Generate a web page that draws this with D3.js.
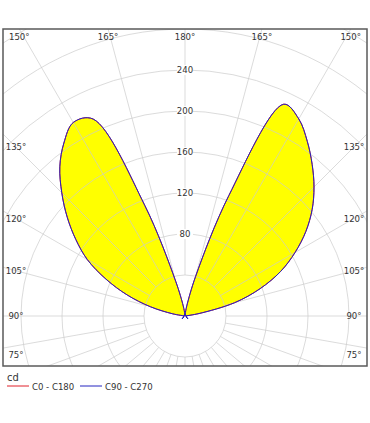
<!DOCTYPE html>
<html>
<head>
<meta charset="utf-8">
<script src="https://cdn.jsdelivr.net/npm/d3@7"></script>
<style>
  body { margin: 0; background: #fff; }
  text { font-family: "Liberation Sans Narrow", "DejaVu Sans Condensed", "Liberation Sans", sans-serif; fill: #333; }
</style>
</head>
<body>
<svg id="chart" width="370" height="423"></svg>
<script>
// gamma angles (deg from nadir), upper hemisphere only - below 90 is all zero
var gammaDeg = [90, 95, 100, 105, 110, 115, 120, 125, 130, 135, 140, 145, 150, 155, 160, 165, 170, 175, 180];
// candela, right half (C0 / C90)
var c0   = [0, 0, 14, 50, 78, 103, 124, 144, 162, 178, 193, 208, 222, 228, 125, 40, 10, 2, 0];
var c90  = [0, 0, 14, 50, 78, 103, 124, 144, 162, 178, 193, 208, 222, 228, 125, 40, 10, 2, 0];
// candela, left half (C180 / C270)
var c180 = [0, 0, 12, 35, 60, 85, 110, 130, 150, 170, 190, 206, 218, 212, 115, 35, 10, 2, 0];
var c270 = [0, 0, 12, 35, 60, 85, 110, 130, 150, 170, 190, 206, 218, 212, 115, 35, 10, 2, 0];

var ringValues = [40, 80, 120, 160, 200, 240, 280, 320, 360, 400];
var ringLabels = [80, 120, 160, 200, 240];
// spokes: every 10 deg below the horizontal, every 15 deg above
var rayAngles = [0, 10, 20, 30, 40, 50, 60, 70, 80, 90, 105, 120, 135, 150, 165, 180];
var angleLabels = [75, 90, 105, 120, 135, 150, 165, 180];
var legendNames = ["C0 - C180", "C90 - C270"];
var legendColors = ["#e0202a", "#2424c0"];
var unitLabel = "cd";

var svg = d3.select("#chart");
var frame = {left: 3, top: 29, right: 367, bottom: 366};
var cx = (frame.left + frame.right) / 2, cy = 316;

var r = d3.scaleLinear().domain([0, 240]).range([0, 246]);
var rad = Math.PI / 180;

svg.append("rect").attr("width", 370).attr("height", 423).attr("fill", "#fff");

svg.append("clipPath").attr("id", "clip")
  .append("rect")
  .attr("x", frame.left).attr("y", frame.top)
  .attr("width", frame.right - frame.left).attr("height", frame.bottom - frame.top);

var plot = svg.append("g").attr("clip-path", "url(#clip)")
  .append("g").attr("transform", "translate(" + cx + "," + cy + ")");

// build one plane as a radial path: right half up to 180, then left half back down
function planePoints(right, left) {
  var pts = [];
  gammaDeg.forEach(function(g, i) { pts.push({a: (180 - g) * rad, v: right[i]}); });
  for (var i = gammaDeg.length - 1; i >= 0; i--) {
    pts.push({a: (gammaDeg[i] - 180) * rad, v: left[i]});
  }
  return pts;
}

var radial = d3.lineRadial()
  .angle(function(d) { return d.a; })
  .radius(function(d) { return r(d.v); })
  .curve(d3.curveCatmullRom.alpha(0.5));

// fill
plot.append("path")
  .datum(planePoints(c0, c180))
  .attr("d", radial)
  .attr("fill", "#ffff00")
  .attr("stroke", "none");

// grid on top of fill
var grid = plot.append("g")
  .attr("stroke", "#cccccc")
  .attr("stroke-opacity", 0.7)
  .attr("fill", "none");

grid.selectAll("circle").data(ringValues).enter().append("circle")
  .attr("r", function(d) { return r(d); });

var rays = [];
rayAngles.forEach(function(a) {
  rays.push(a);
  if (a > 0 && a < 180) rays.push(-a);
});
grid.selectAll("line").data(rays).enter().append("line")
  .attr("x1", function(d) { return r(ringValues[0]) * Math.sin(d * rad); })
  .attr("y1", function(d) { return r(ringValues[0]) * Math.cos(d * rad); })
  .attr("x2", function(d) { return r(600) * Math.sin(d * rad); })
  .attr("y2", function(d) { return r(600) * Math.cos(d * rad); });

// curves
var planes = [planePoints(c0, c180), planePoints(c90, c270)];
plot.selectAll("path.plane").data(planes).enter().append("path")
  .attr("class", "plane")
  .attr("d", radial)
  .attr("fill", "none")
  .attr("stroke", function(d, i) { return legendColors[i]; })
  .attr("stroke-width", 1);

// luminaire marker
plot.append("path")
  .attr("d", "M-3,3 L0,-2 L3,3 M-3,3 L-1,1 M3,3 L1,1")
  .attr("fill", "none")
  .attr("stroke", legendColors[1])
  .attr("stroke-width", 1);

// ring labels
var rl = plot.selectAll("g.rl").data(ringLabels).enter().append("g")
  .attr("class", "rl")
  .attr("transform", function(d) { return "translate(0," + (-r(d)) + ")"; });
rl.append("rect")
  .attr("x", -8).attr("y", -5).attr("width", 16).attr("height", 10)
  .attr("fill", "#fff");
rl.append("text")
  .attr("text-anchor", "middle")
  .attr("dy", "0.35em")
  .attr("font-size", 9.5)
  .text(function(d) { return d; });

// frame
svg.append("rect")
  .attr("x", frame.left).attr("y", frame.top)
  .attr("width", frame.right - frame.left).attr("height", frame.bottom - frame.top)
  .attr("fill", "none")
  .attr("stroke", "#5a5a5a")
  .attr("stroke-width", 1.5);

// angle labels around the frame: top row for steep angles, side columns for the rest
var lab = svg.append("g").attr("font-size", 9.5);
angleLabels.forEach(function(a) {
  [-1, 1].forEach(function(side) {
    if (a === 180 && side === 1) return;
    var x, y;
    if (a >= 150) {
      x = cx + side * (cy - frame.top) * Math.tan((180 - a) * rad);
      y = 37;
    } else {
      x = side < 0 ? 16 : 354;
      y = cy - (cx - 16) * Math.tan((a - 90) * rad);
      y = Math.min(y, 355);
    }
    lab.append("text")
      .attr("x", x).attr("y", y)
      .attr("dy", "0.35em")
      .attr("text-anchor", "middle")
      .text(a + "°");
  });
});

// legend
var leg = svg.append("g");
leg.append("text").attr("x", 7).attr("y", 381).attr("font-size", 11).text(unitLabel);
var legX = [7, 80];
legendNames.forEach(function(n, i) {
  leg.append("line")
    .attr("x1", legX[i]).attr("x2", legX[i] + 22)
    .attr("y1", 386).attr("y2", 386)
    .attr("stroke", legendColors[i]).attr("stroke-width", 1);
  leg.append("text")
    .attr("x", legX[i] + 25).attr("y", 389.5)
    .attr("font-size", 9.5)
    .text(n);
});
</script>
</body>
</html>
